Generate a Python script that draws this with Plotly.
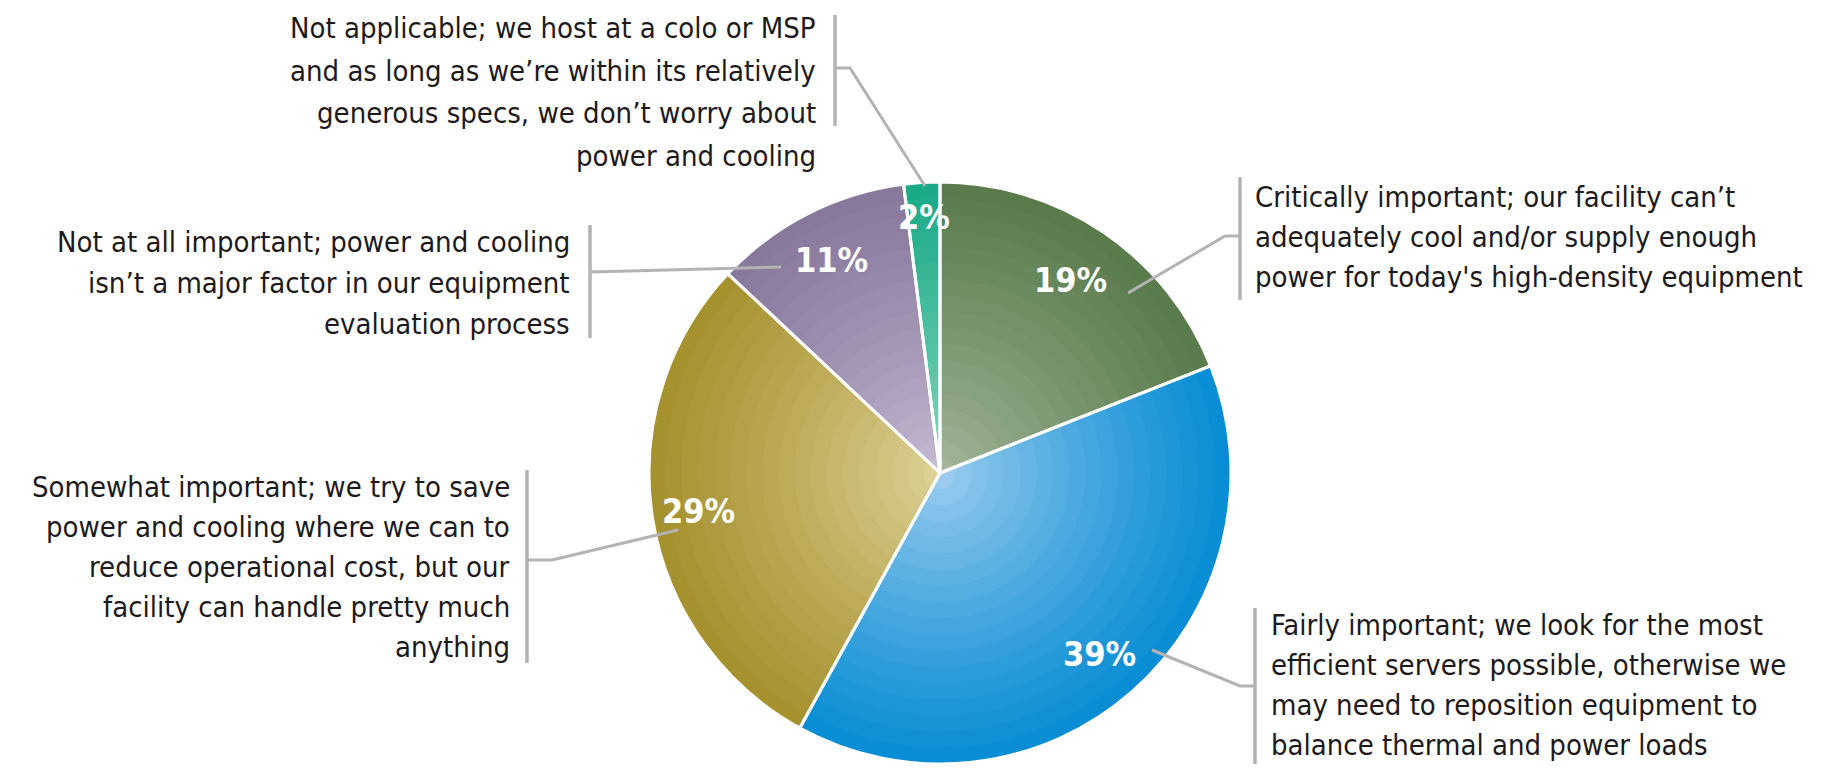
import math
import plotly.graph_objects as go

# ---------------- data ----------------
categories = [
    "Critically important",
    "Fairly important",
    "Somewhat important",
    "Not at all important",
    "Not applicable",
]
values = [19, 39, 29, 11, 2]
pct_labels = ["19%", "39%", "29%", "11%", "2%"]
label_lines = [
    ["Critically important; our facility can’t",
     "adequately cool and/or supply enough",
     "power for today's high-density equipment"],
    ["Fairly important; we look for the most",
     "efficient servers possible, otherwise we",
     "may need to reposition equipment to",
     "balance thermal and power loads"],
    ["Somewhat important; we try to save",
     "power and cooling where we can to",
     "reduce operational cost, but our",
     "facility can handle pretty much",
     "anything"],
    ["Not at all important; power and cooling",
     "isn’t a major factor in our equipment",
     "evaluation process"],
    ["Not applicable; we host at a colo or MSP",
     "and as long as we’re within its relatively",
     "generous specs, we don’t worry about",
     "power and cooling"],
]

# ---------------- style ----------------
W, H = 1841, 772          # window
OFF = 8                   # default body margin of the page
FW, FH = W - 2 * OFF, H - 2 * OFF
CX, CY, R = 940, 473, 291
outer_cols = ["#587a4a", "#068bd3", "#a58f2d", "#85769b", "#17a986"]
inner_cols = ["#a7b9a0", "#a2cff0", "#e0d69c", "#c9bed5", "#95dac3"]
label_r = [0.80, 0.83, 0.84, 0.82, 0.88]
FONT = "DejaVu Sans Condensed, Liberation Sans Narrow, sans-serif"
TXT_SIZE = 29
TXT_COL = "#1e1a1b"
GRAY = "#b3b3b3"

# callout layout: (anchor, x, first-line y, line step)
blocks = [
    ("left", 1253, 197, 40),
    ("left", 1269, 625, 40),
    ("right", 512, 487, 40),
    ("right", 572, 242, 41),
    ("right", 818, 28, 42.5),
]
bars = [(1240, 177, 300), (1255, 608, 770), (527, 470, 663), (590, 225, 338), (835, 15, 126)]
leaders = [
    [(1240, 236), (1225, 236), (1128, 293)],
    [(1255, 686), (1240, 686), (1152, 650)],
    [(527, 560), (552, 560), (678, 530)],
    [(590, 272), (781, 267)],
    [(835, 68), (850, 68), (925, 186)],
]


def px(x):
    return (x - OFF) / FW


def py(y):
    return 1 - (y - OFF) / FH


def hex2rgb(h):
    h = h.lstrip("#")
    return [int(h[i:i + 2], 16) for i in (0, 2, 4)]


def mix(a, b, t):
    ra, rb = hex2rgb(a), hex2rgb(b)
    return "rgb(%d,%d,%d)" % tuple(round(ra[i] + (rb[i] - ra[i]) * t) for i in range(3))


fig = go.Figure()

N = 18
for k in range(N):
    f = 1 - k / N
    mid = f - 0.5 / N
    cols = [mix(inner_cols[i], outer_cols[i], mid ** 0.8) for i in range(len(values))]
    fig.add_trace(go.Pie(
        labels=categories, values=values, sort=False, direction="clockwise", rotation=0,
        marker=dict(colors=cols, line=dict(width=0)),
        textinfo="none", hoverinfo="skip", showlegend=False,
        domain=dict(x=[px(CX - R * f), px(CX + R * f)], y=[py(CY + R * f), py(CY - R * f)]),
    ))

# separators
fig.add_trace(go.Pie(
    labels=categories, values=values, sort=False, direction="clockwise", rotation=0,
    marker=dict(colors=["rgba(0,0,0,0)"] * len(values), line=dict(color="white", width=3)),
    textinfo="none", hoverinfo="skip", showlegend=False,
    domain=dict(x=[px(CX - R), px(CX + R)], y=[py(CY + R), py(CY - R)]),
))

annotations = []
shapes = []
total = sum(values)
cum = 0
for i, v in enumerate(values):
    mida = (cum + v / 2) / total * 2 * math.pi
    cum += v
    r = R * label_r[i]
    x = CX + r * math.sin(mida)
    y = CY - r * math.cos(mida)
    annotations.append(dict(
        x=px(x), y=py(y), xref="paper", yref="paper", text="<b>%s</b>" % pct_labels[i],
        showarrow=False, xanchor="center", yanchor="middle",
        font=dict(family=FONT, size=34, color="white"),
    ))

for i, lines in enumerate(label_lines):
    anchor, x0, y0, step = blocks[i]
    for j, line in enumerate(lines):
        annotations.append(dict(
            x=px(x0), y=py(y0 + j * step), xref="paper", yref="paper", text=line,
            showarrow=False, xanchor=anchor, yanchor="middle",
            font=dict(family=FONT, size=TXT_SIZE, color=TXT_COL),
        ))
    bx, by0, by1 = bars[i]
    shapes.append(dict(type="line", xref="paper", yref="paper",
                       x0=px(bx), x1=px(bx), y0=py(by0), y1=py(by1),
                       line=dict(color=GRAY, width=3.5)))
    pts = leaders[i]
    path = "M %f,%f " % (px(pts[0][0]), py(pts[0][1])) + " ".join(
        "L %f,%f" % (px(p[0]), py(p[1])) for p in pts[1:])
    shapes.append(dict(type="path", xref="paper", yref="paper", path=path,
                       line=dict(color=GRAY, width=3)))

fig.update_layout(
    width=FW, height=FH, margin=dict(l=0, r=0, t=0, b=0),
    paper_bgcolor="white", plot_bgcolor="white",
    annotations=annotations, shapes=shapes,
)

fig.write_html("out.html")
